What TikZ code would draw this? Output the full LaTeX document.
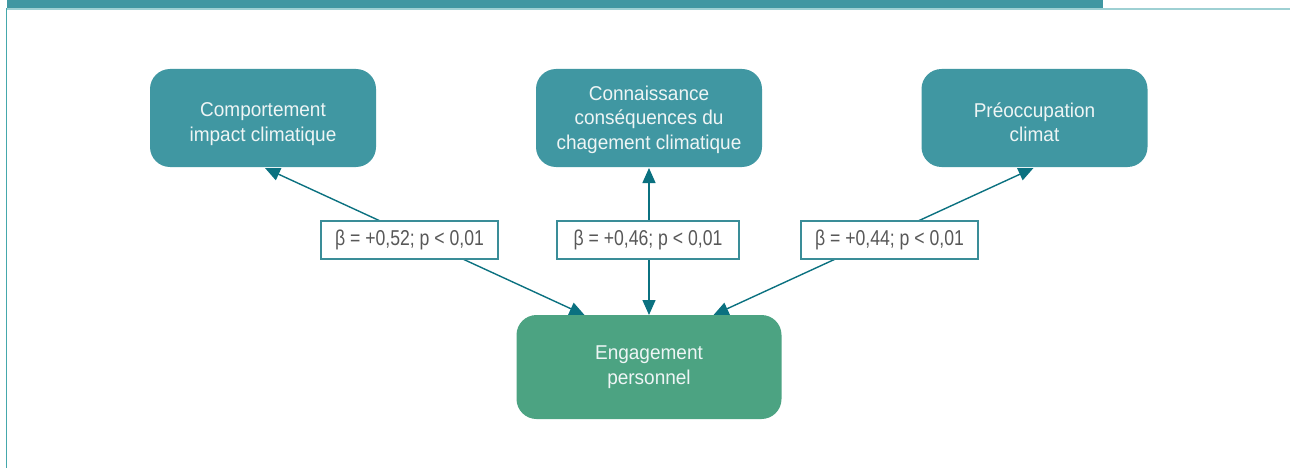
\documentclass[tikz,border=0pt]{standalone}
\usepackage{fontspec}
\setmainfont{Liberation Sans}[FakeStretch=0.95]
\newfontfamily\labfont{Liberation Sans}[FakeStretch=0.82]
\usetikzlibrary{arrows.meta}
\definecolor{barteal}{HTML}{4097A2}
\definecolor{barlight}{HTML}{9ED0D3}
\definecolor{edgeteal}{HTML}{45A8AC}
\definecolor{boxteal}{HTML}{4097A2}
\definecolor{boxgreen}{HTML}{4CA382}
\definecolor{arrteal}{HTML}{0B7180}
\definecolor{labtxt}{HTML}{585858}
\definecolor{labedge}{HTML}{3A8D98}
\definecolor{boxtxt}{HTML}{EEF5F5}
\begin{document}
\begin{tikzpicture}[x=1pt,y=-1pt,
  boxbase/.style={rounded corners=20pt, inner sep=0pt, outer sep=0pt},
  topbox/.style={boxbase, fill=boxteal, minimum width=226pt, minimum height=98pt},
  engbox/.style={boxbase, fill=boxgreen, minimum width=265pt, minimum height=104pt},
  boxtext/.style={inner sep=0pt, align=center, text=boxtxt, font=\fontsize{20}{24.5}\selectfont},
  labbox/.style={draw=labedge, line width=1.3pt, fill=white, inner sep=0pt, outer sep=0pt,
    minimum height=38pt, text=labtxt, font=\labfont\fontsize{21.5}{22}\selectfont},
  arr/.style={draw=arrteal, line width=1.4pt, {Triangle[length=15pt,width=13pt]}-{Triangle[length=15pt,width=13pt]}, color=arrteal}
]
\useasboundingbox (0,0) rectangle (1290,468);
\fill[barteal] (7,0) rectangle (1103,8);
\fill[barlight] (7,8) rectangle (1290,9.6);
\draw[edgeteal, line width=1.2pt] (6.8,8) -- (6.8,468);

\node[topbox] (comp) at (263,118) {};
\node[topbox] (conn) at (649,118) {};
\node[topbox] (preo) at (1034.5,118) {};
\node[engbox] (eng) at (649,367) {};

\node[boxtext] (compt) at ([yshift=-6pt]comp.center) {Comportement\\impact climatique};
\node[boxtext] (connt) at ([yshift=-1.5pt]conn.center) {Connaissance\\conséquences du\\chagement climatique};
\node[boxtext] (preot) at ([yshift=-4pt]preo.center) {Préoccupation\\climat};
\node[boxtext] (engt) at ([yshift=0pt]eng.center) {Engagement\\personnel};

\draw[arr] ([xshift=68pt]eng.north west) -- ([xshift=115pt,yshift=-1pt]comp.south west);
\draw[arr] (eng.north) -- ([yshift=-1pt]conn.south);
\draw[arr] ([xshift=-68pt]eng.north east) -- ([xshift=112pt,yshift=-1pt]preo.south west);

\node[labbox, minimum width=177pt] (l1) at (409.5,240) {β = +0,52; p < 0,01};
\node[labbox, minimum width=182pt] (l2) at (648,240) {β = +0,46; p < 0,01};
\node[labbox, minimum width=177pt] (l3) at (889.5,240) {β = +0,44; p < 0,01};
\end{tikzpicture}
\end{document}
